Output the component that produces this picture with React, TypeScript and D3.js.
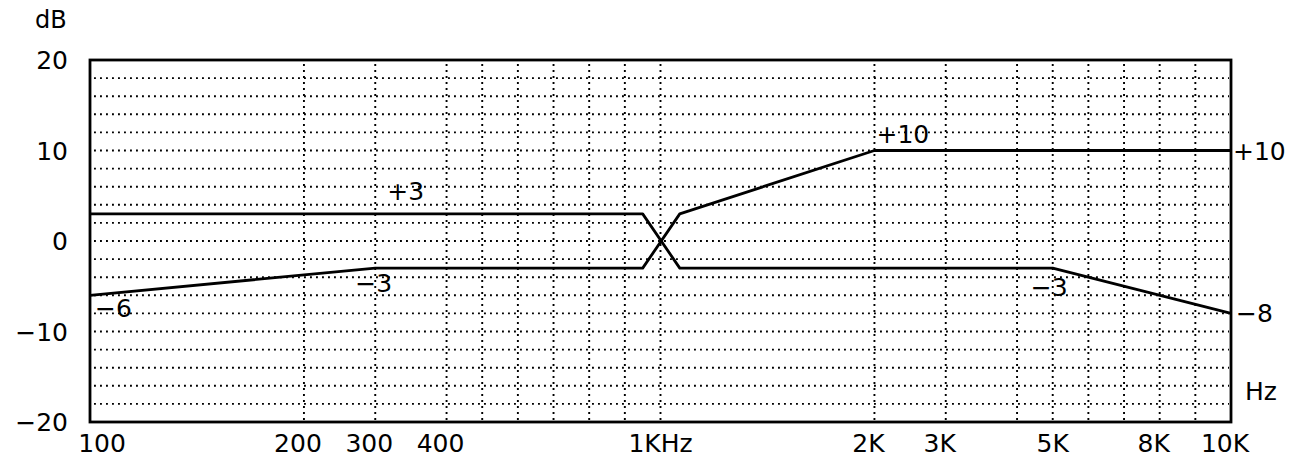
import { useMemo } from "react";
import * as d3 from "d3";

const WIDTH = 1294;
const HEIGHT = 470;
const PLOT = { left: 90, right: 1231, top: 60, bottom: 422 };
const FONT = "DejaVu Sans, sans-serif";

// frequency grid of the chart (Hz) and the column each one sits on (32 columns)
const gridFreqs = [100, 200, 300, 400, 500, 600, 700, 800, 900, 1000, 2000, 3000, 4000, 5000, 6000, 7000, 8000, 9000, 10000];
const gridColumns = [0, 6, 8, 10, 11, 12, 13, 14, 15, 16, 22, 24, 26, 27, 28, 29, 30, 31, 32];

const xTickFreqs = [100, 200, 300, 400, 1000, 2000, 3000, 5000, 8000, 10000];
const xTickLabels = ["100", "200", "300", "400", "1KHz", "2K", "3K", "5K", "8K", "10K"];
const yTickValues = [20, 10, 0, -10, -20];

// curve A: bass cut, treble boost
const curveAFreq = [100, 300, 950, 1090, 2000, 10000];
const curveADb = [-6, -3, -3, 3, 10, 10];
// curve B: bass boost, treble cut
const curveBFreq = [100, 950, 1090, 5000, 10000];
const curveBDb = [3, 3, -3, -3, -8];

const annoText = ["+10", "+3", "−3", "−6", "−3", "+10", "−8"];
const annoFreq = [2000, 300, 300, 100, 5000, 10000, 10000];
const annoDb = [10, 3, -3, -6, -3, 10, -8];
// label offsets from the point they describe
const annoOffset = [
  [2, -8], [12, -14], [-20, 24], [5, 22], [-22, 28], [2, 9], [5, 9],
];

const fmtDb = (v: number) => (v < 0 ? "−" + Math.abs(v) : String(v));

export default function App() {
  const unit = (PLOT.right - PLOT.left) / 32;

  const xScale = useMemo(
    () => d3.scaleLinear().domain(gridFreqs).range(gridColumns.map((c) => PLOT.left + c * unit)),
    [unit]
  );
  const yScale = useMemo(
    () => d3.scaleLinear().domain([-20, 20]).range([PLOT.bottom, PLOT.top]),
    []
  );

  const line = d3
    .line<[number, number]>()
    .x((d) => xScale(d[0]))
    .y((d) => yScale(d[1]));

  const curveA = curveAFreq.map((f, i) => [f, curveADb[i]] as [number, number]);
  const curveB = curveBFreq.map((f, i) => [f, curveBDb[i]] as [number, number]);

  const hGrid = d3.range(-18, 20, 2);
  const vGrid = gridFreqs.slice(1, -1);

  return (
    <svg
      width={WIDTH}
      height={HEIGHT}
      style={{ position: "absolute", left: 0, top: 0, background: "#fff" }}
      fontFamily={FONT}
    >
      {/* dotted grid */}
      <g stroke="#000" strokeWidth={1.9} strokeDasharray="1.9 4.1">
        {hGrid.map((v) => (
          <line key={"h" + v} x1={PLOT.left + 4} x2={PLOT.right - 2} y1={yScale(v)} y2={yScale(v)} />
        ))}
        {vGrid.map((f) => (
          <line key={"v" + f} x1={xScale(f)} x2={xScale(f)} y1={PLOT.top + 4} y2={PLOT.bottom - 2} />
        ))}
      </g>

      {/* frame */}
      <rect
        x={PLOT.left}
        y={PLOT.top}
        width={PLOT.right - PLOT.left}
        height={PLOT.bottom - PLOT.top}
        fill="none"
        stroke="#000"
        strokeWidth={2.8}
      />

      {/* curves */}
      <path d={line(curveA) ?? ""} fill="none" stroke="#000" strokeWidth={2.8} strokeLinejoin="round" />
      <path d={line(curveB) ?? ""} fill="none" stroke="#000" strokeWidth={2.8} strokeLinejoin="round" />

      {/* y axis */}
      <g fontSize={25} fill="#000" textAnchor="end">
        {yTickValues.map((v) => (
          <text key={v} x={68} y={yScale(v)} dy="0.36em">
            {fmtDb(v)}
          </text>
        ))}
      </g>
      <text x={35} y={28} fontSize={24}>
        dB
      </text>

      {/* x axis */}
      <g fontSize={25} fill="#000" textAnchor="middle">
        {xTickFreqs.map((f, i) => (
          <text key={f} x={i === 0 ? xScale(f) + 12 : xScale(f) - (i === 4 || i === 7 ? 0 : 6)} y={452}>
            {xTickLabels[i]}
          </text>
        ))}
      </g>
      <text x={1245} y={400} fontSize={25}>
        Hz
      </text>

      {/* point annotations */}
      <g fontSize={25} fill="#000">
        {annoText.map((t, i) => (
          <text
            key={i}
            x={xScale(annoFreq[i]) + annoOffset[i][0]}
            y={yScale(annoDb[i]) + annoOffset[i][1]}
          >
            {t}
          </text>
        ))}
      </g>
    </svg>
  );
}
